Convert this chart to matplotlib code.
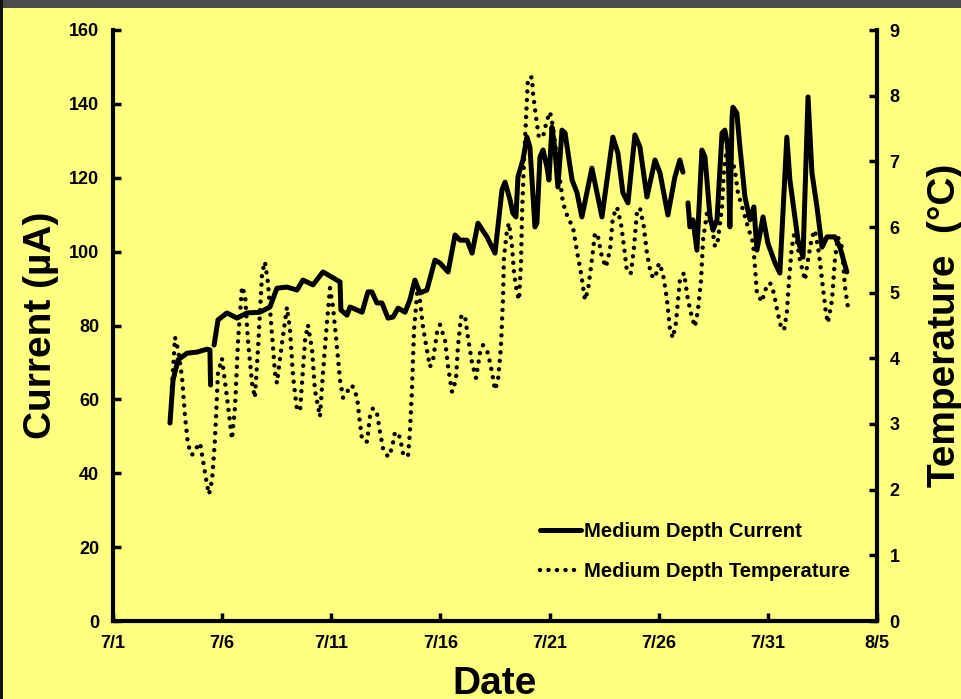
import numpy as np
import pandas as pd
import matplotlib
matplotlib.use("Agg")
import matplotlib.pyplot as plt
from matplotlib.patches import Rectangle

plt.rcParams['font.family'] = ['Liberation Sans', 'DejaVu Sans']
plt.rcParams['font.weight'] = 'bold'

# time in fractional days of July (8/5 == 36)
cur_day_1 = [3.61, 3.75, 3.98, 4.39, 4.85, 5.31, 5.44, 5.47]
cur_val_1 = [53.6, 65.2, 70.7, 72.5, 72.8, 73.6, 73.4, 63.9]

cur_day_2 = [5.63, 5.81, 6.22, 6.68, 7.14, 7.73, 8.19, 8.51, 8.97, 9.43, 9.70,
             10.16, 10.62, 11.08, 11.40, 11.44, 11.72, 11.86, 12.18, 12.41,
             12.68, 12.86, 13.09, 13.32, 13.60, 13.83, 14.06, 14.38, 14.60,
             14.83, 15.06, 15.38, 15.75, 15.98, 16.35, 16.67, 16.90, 17.22,
             17.45, 17.72, 18.13, 18.50, 18.82, 18.96, 19.19, 19.32, 19.46,
             19.55, 19.78, 19.96, 20.10, 20.33, 20.42, 20.56, 20.70, 20.88,
             20.97, 21.11, 21.25, 21.38, 21.57, 21.71, 22.03, 22.26, 22.48,
             22.94, 23.40, 23.90, 24.13, 24.36, 24.59, 24.91, 25.14, 25.46,
             25.83, 26.06, 26.42, 26.74, 26.97, 27.11]
cur_val_2 = [74.7, 81.5, 83.4, 82.0, 83.4, 83.6, 85.0, 90.1, 90.4, 89.6, 92.3,
             91.0, 94.5, 92.9, 91.8, 84.2, 82.8, 85.0, 84.2, 83.6,
             89.1, 89.1, 86.1, 86.1, 82.0, 82.3, 84.7, 83.6, 86.9,
             92.3, 88.8, 89.6, 97.7, 96.9, 94.5, 104.5, 103.1, 103.1,
             99.6, 107.7, 104.0, 99.6, 116.7, 118.8, 114.0, 110.4, 109.4,
             120.2, 124.8, 131.0, 128.3, 106.7, 107.7, 125.6, 127.5, 122.9,
             119.4, 133.7, 127.5, 117.5, 132.9, 132.1, 119.4, 115.9, 109.4,
             122.6, 109.4, 131.0, 126.7, 115.9, 113.2, 131.6, 128.3, 114.8,
             124.8, 121.3, 109.9, 120.2, 124.8, 121.5]

cur_day_3 = [27.34, 27.43, 27.57, 27.75, 27.98, 28.12, 28.35, 28.49, 28.67,
             28.90, 29.03, 29.17, 29.26, 29.36, 29.40, 29.58, 29.72, 29.95,
             30.18, 30.36, 30.50, 30.78, 31.00, 31.33, 31.55, 31.87, 32.01,
             32.38, 32.61, 32.84, 33.02, 33.25, 33.48, 33.71, 34.07, 34.30,
             34.62]
cur_val_3 = [113.2, 106.7, 108.6, 100.4, 127.5, 125.6, 109.4, 105.8, 108.6,
             132.1, 132.9, 128.3, 106.7, 136.4, 139.1, 137.5, 128.3, 114.8,
             108.6, 112.1, 100.4, 109.4, 102.3, 96.9, 94.2, 131.0, 119.4,
             103.1, 98.5, 141.9, 121.3, 112.1, 101.2, 104.0, 104.0, 101.2,
             94.5]

temp_day = [3.70, 3.84, 3.98, 4.16, 4.30, 4.44, 4.62, 4.85, 4.99, 5.12, 5.31,
            5.40, 5.54, 5.67, 5.81, 5.99, 6.22, 6.36, 6.45, 6.59, 6.73, 6.91,
            7.05, 7.18, 7.37, 7.50, 7.64, 7.83, 7.96, 8.10, 8.28, 8.42, 8.51,
            8.74, 8.97, 9.11, 9.25, 9.43, 9.57, 9.80, 9.93, 10.12, 10.25,
            10.48, 10.62, 10.80, 10.94, 11.08, 11.26, 11.40, 11.54, 11.72,
            11.95, 12.18, 12.31, 12.41, 12.64, 12.77, 12.91, 13.09, 13.23,
            13.37, 13.60, 13.78, 13.92, 14.15, 14.28, 14.51, 14.60, 14.70,
            14.79, 14.93, 15.06, 15.20, 15.38, 15.52, 15.66, 15.84, 15.98,
            16.21, 16.35, 16.53, 16.71, 16.80, 16.94, 17.12, 17.26, 17.45,
            17.63, 17.81, 17.95, 18.18, 18.36, 18.50, 18.64, 18.77, 18.87,
            18.91, 19.05, 19.14, 19.28, 19.37, 19.51, 19.60, 19.69, 19.74,
            19.83, 19.92, 20.01, 20.19, 20.24, 20.38, 20.51, 20.70, 20.88,
            21.02, 21.16, 21.25, 21.34, 21.48, 21.61, 21.84, 22.07, 22.26,
            22.44, 22.62, 22.76, 22.94, 23.08, 23.22, 23.40, 23.58, 23.77,
            23.90, 24.09, 24.27, 24.41, 24.55, 24.73, 24.87, 25.00, 25.14,
            25.32, 25.46, 25.65, 25.83, 26.01, 26.19, 26.38, 26.52, 26.65,
            26.79, 26.97, 27.16, 27.34, 27.52, 27.66, 27.80, 27.94, 28.03,
            28.21, 28.44, 28.58, 28.71, 28.90, 28.99, 29.17, 29.36, 29.49,
            29.63, 29.86, 30.09, 30.32, 30.41, 30.50, 30.73, 30.87, 31.10,
            31.28, 31.42, 31.60, 31.74, 31.87, 31.97, 32.10, 32.20, 32.33,
            32.47, 32.70, 32.84, 33.02, 33.16, 33.34, 33.52, 33.66, 33.75,
            33.94, 34.07, 34.21, 34.39, 34.53, 34.67]
temp_val = [3.56, 4.32, 4.13, 3.72, 3.11, 2.68, 2.53, 2.65, 2.71, 2.45, 2.07,
            1.93, 2.15, 2.76, 3.78, 4.00, 3.41, 3.02, 2.77, 3.26, 4.28, 5.09,
            4.96, 4.28, 3.62, 3.40, 4.13, 5.30, 5.47, 5.15, 4.39, 3.78, 3.62,
            4.23, 4.78, 4.43, 3.72, 3.21, 3.21, 4.28, 4.51, 4.13, 3.52,
            3.11, 3.78, 4.54, 5.07, 4.78, 4.17, 3.67, 3.40, 3.49,
            3.59, 3.41, 3.02, 2.76, 2.73, 3.11, 3.24, 3.17, 2.88,
            2.63, 2.50, 2.63, 2.88, 2.80, 2.56, 2.50, 2.86, 3.56,
            4.43, 4.99, 4.89, 4.48, 4.13, 3.87, 3.97, 4.39, 4.51,
            4.28, 3.87, 3.49, 3.67, 4.17, 4.63, 4.66, 4.32, 3.93,
            3.70, 4.08, 4.20, 4.08, 3.79, 3.52, 3.67, 4.17, 4.93,
            5.54, 5.95, 6.06, 5.70, 5.30, 4.99, 4.89, 5.45, 6.21,
            7.02, 7.63, 8.27, 8.28, 8.04, 7.67, 7.37, 7.37, 7.63,
            7.75, 7.52, 7.28, 7.02, 6.72, 6.37, 6.14, 6.00, 5.62,
            5.30, 4.89, 5.04, 5.50, 5.91, 5.85, 5.54, 5.39, 5.65,
            6.15, 6.30, 6.06, 5.70, 5.31, 5.30, 5.70, 6.21, 6.29,
            6.00, 5.60, 5.27, 5.22, 5.45, 5.30, 4.89, 4.43, 4.31,
            4.54, 5.19, 5.30, 4.89, 4.63, 4.48, 4.74, 5.19, 5.80,
            6.21, 6.00, 5.70, 5.80, 6.30, 6.87, 7.32, 7.02, 6.87,
            6.52, 6.26, 6.00, 5.76, 5.39, 4.99, 4.86, 5.04, 5.15,
            4.99, 4.74, 4.48, 4.43, 4.69, 5.19, 5.70, 5.88, 5.77,
            5.50, 5.19, 5.50, 5.85, 5.95, 5.60, 5.09, 4.69, 4.54,
            4.89, 5.50, 5.85, 5.70, 5.09, 4.78]

tick_days = [1, 6, 11, 16, 21, 26, 31, 36]

base = pd.Timestamp('2011-06-30')


def to_time(days):
    return base + pd.to_timedelta(np.asarray(days), unit='D')


bg = '#FFFF80'
fig = plt.figure(figsize=(9.62, 6.99), dpi=100, facecolor=bg)
ax = fig.add_axes([113 / 962, 1 - 621 / 699, 764 / 962, 591 / 699])
ax.set_facecolor(bg)
ax2 = ax.twinx()

# decorative dark frame strips from the slide
fig.add_artist(Rectangle((0, 1 - 8 / 699), 1, 8 / 699, transform=fig.transFigure,
                         facecolor='#4b4b4b', edgecolor='none'))
fig.add_artist(Rectangle((0, 0), 3 / 962, 1, transform=fig.transFigure,
                         facecolor='#111111', edgecolor='none'))

first = True
for d, v in [(cur_day_1, cur_val_1), (cur_day_2, cur_val_2), (cur_day_3, cur_val_3)]:
    ax.plot(to_time(d), v, color='black', lw=3.6, solid_joinstyle='round',
            solid_capstyle='round',
            label='Medium Depth Current' if first else None)
    first = False

ax2.plot(to_time(temp_day), temp_val, color='black', lw=3.2,
         linestyle=(0, (0.01, 1.9)), dash_capstyle='round',
         label='Medium Depth Temperature')

ax.set_xlim(to_time([1])[0], to_time([36])[0])
ax.set_ylim(0, 160)
ax2.set_ylim(0, 9)
ax.set_yticks(np.arange(0, 161, 20))
ax2.set_yticks(np.arange(0, 10, 1))
tt = to_time(tick_days)
ax.set_xticks(tt)
ax.set_xticklabels([f"{t.month}/{t.day}" for t in tt])

for a in (ax, ax2):
    a.spines['top'].set_visible(False)
    for s in a.spines.values():
        s.set_linewidth(3)
    a.tick_params(direction='in', length=6, width=2.5, labelsize=13, pad=10)
ax.spines['right'].set_visible(False)
ax2.spines['left'].set_visible(False)
ax2.spines['bottom'].set_visible(False)
ax2.tick_params(pad=9)

ax.set_xlabel('Date', fontsize=28, fontweight='bold', labelpad=10)
ax.set_ylabel('Current (µA)', fontsize=28, fontweight='bold', labelpad=7)
ax2.set_ylabel('Temperature  (°C)', fontsize=28, fontweight='bold', labelpad=20)

h1, l1 = ax.get_legend_handles_labels()
h2, l2 = ax2.get_legend_handles_labels()
leg = ax2.legend(h1 + h2, l1 + l2, loc='lower right', bbox_to_anchor=(0.988, 0.036),
                 frameon=False, handlelength=2.0, handletextpad=0.15,
                 labelspacing=1.05, prop={'weight': 'bold', 'size': 14.6})

fig.savefig('out.png', dpi=100, facecolor=bg)
